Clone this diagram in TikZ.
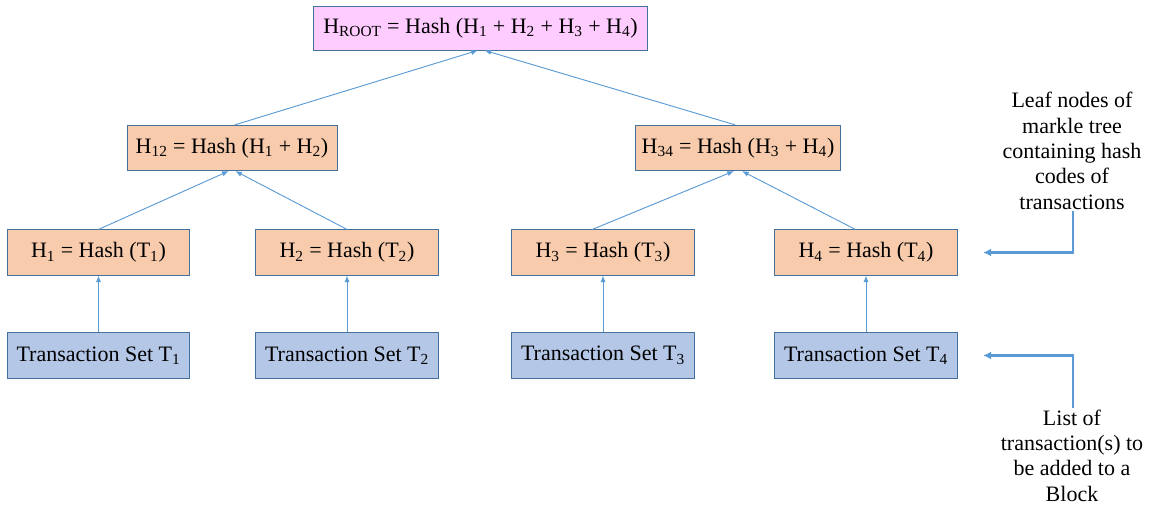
\documentclass[tikz,border=0pt]{standalone}
\usepackage{fontspec}
\setmainfont{LiberationSerif}[Extension=.ttf,UprightFont=*-Regular,BoldFont=*-Bold,ItalicFont=*-Italic]
\usetikzlibrary{arrows.meta}

\definecolor{boxline}{RGB}{65,113,156}
\definecolor{arrowblue}{RGB}{91,155,213}
\definecolor{rootfill}{RGB}{255,204,255}
\definecolor{hashfill}{RGB}{248,203,173}
\definecolor{txfill}{RGB}{180,199,231}

\begin{document}
\begin{tikzpicture}[x=0.75pt,y=-0.75pt,
  every node/.style={font=\fontsize{16.5}{19}\selectfont},
  hashbox/.style={draw=boxline,line width=0.6pt,fill=hashfill,minimum width=137pt,minimum height=34pt,inner sep=0pt},
  txbox/.style={hashbox,fill=txfill},
  rootbox/.style={hashbox,fill=rootfill,minimum width=250pt,minimum height=33pt},
  link/.style={arrowblue,line width=0.7pt,-{Latex[length=5pt,width=4pt]}},
  callout/.style={arrowblue,line width=1.6pt,-{Latex[length=6pt,width=6pt]}},
  note/.style={align=center,inner sep=1pt}]
\useasboundingbox (0,0) rectangle (1149,505);
% tree of hashes
\node[rootbox] (root) at (480.5,28) {H\textsubscript{ROOT} = Hash (H\textsubscript{1} + H\textsubscript{2} + H\textsubscript{3} + H\textsubscript{4})};
\node[hashbox,minimum width=157.5pt] (h12) at (232,148) {H\textsubscript{12} = Hash (H\textsubscript{1} + H\textsubscript{2})};
\node[hashbox,minimum width=154pt] (h34) at (738,148) {H\textsubscript{34} = Hash (H\textsubscript{3} + H\textsubscript{4})};
\node[hashbox] (h1) at (98.5,252.5) {H\textsubscript{1} = Hash (T\textsubscript{1})};
\node[hashbox] (h2) at (347,252.5) {H\textsubscript{2} = Hash (T\textsubscript{2})};
\node[hashbox] (h3) at (603,252.5) {H\textsubscript{3} = Hash (T\textsubscript{3})};
\node[hashbox] (h4) at (866,252.5) {H\textsubscript{4} = Hash (T\textsubscript{4})};
% transaction sets
\node[txbox] (t1) at (98.5,355.5) {Transaction Set T\textsubscript{1}};
\node[txbox] (t2) at (347,355.5) {Transaction Set T\textsubscript{2}};
\node[txbox] (t3) at (603,355.5) {Transaction Set T\textsubscript{3}};
\node[txbox] (t4) at (866,355.5) {Transaction Set T\textsubscript{4}};
% notes
\node[note] (leafnote) at (1072,151) {Leaf nodes of\\markle tree\\containing hash\\codes of\\transactions};
\node[note] (listnote) at (1072,455.5) {List of\\transaction(s) to\\be added to a\\Block};

\draw[link] (t1) -- (h1);
\draw[link] (t2) -- (h2);
\draw[link] (t3) -- (h3);
\draw[link] (t4) -- (h4);
\draw[link] (h1.north) -- ([xshift=-2.5pt]h12.south);
\draw[link] (h2.north) -- ([xshift=2.5pt]h12.south);
\draw[link] ([xshift=-8pt]h3.north) -- ([xshift=-3pt]h34.south);
\draw[link] ([xshift=-8pt]h4.north) -- ([xshift=3pt]h34.south);
\draw[link] ([xshift=2pt]h12.north) -- ([xshift=-2pt]root.south);
\draw[link] ([xshift=-2pt]h34.north) -- ([xshift=3pt]root.south);

\draw[callout] ([xshift=0.75pt]leafnote.south) |- ([xshift=19pt]h4.east);
\draw[callout] ([xshift=0.75pt]listnote.north) |- ([xshift=19pt]t4.east);
\end{tikzpicture}
\end{document}
